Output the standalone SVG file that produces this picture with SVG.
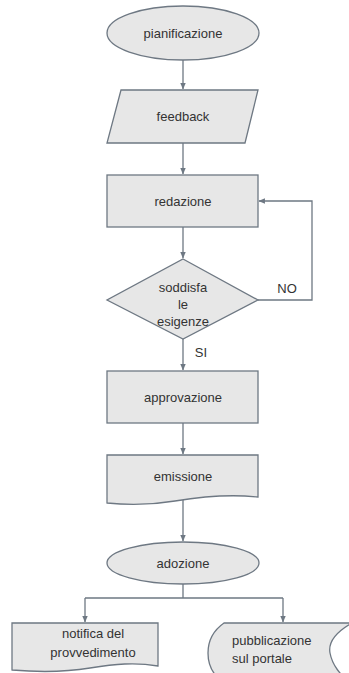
<svg xmlns="http://www.w3.org/2000/svg" width="349" height="673" viewBox="0 0 349 673">
<defs>
<style>
.s{fill:#e7e7e7;stroke:#6e7883;stroke-width:1.3}
.t{font-family:"Liberation Sans",Arial,sans-serif;font-size:13px;fill:#333;text-anchor:middle}
.c{fill:none;stroke:#6e7883;stroke-width:1.3}
</style>
<marker id="a" viewBox="0 0 6 6" refX="5.5" refY="3" markerWidth="5" markerHeight="5" orient="auto">
<path d="M0,0.5 L6,3 L0,5.5 z" fill="#6e7883"/>
</marker>
</defs>
<rect width="349" height="673" fill="#fff"/>
<g id="connectors">
<path class="c" d="M183,59 V89" marker-end="url(#a)"/>
<path class="c" d="M183,143 V174" marker-end="url(#a)"/>
<path class="c" d="M183,227 V258" marker-end="url(#a)"/>
<path class="c" d="M258,300 H312 V201 H259" marker-end="url(#a)"/>
<path class="c" d="M183,339 V370" marker-end="url(#a)"/>
<path class="c" d="M183,423 V454" marker-end="url(#a)"/>
<path class="c" d="M183,500 V541" marker-end="url(#a)"/>
<path class="c" d="M183,583 V598 M85,598 H283"/>
<path class="c" d="M85,598 V622" marker-end="url(#a)"/>
<path class="c" d="M283,598 V622" marker-end="url(#a)"/>
<text class="t" x="287" y="293">NO</text>
<text class="t" x="201" y="357">SI</text>
</g>
<g id="pianificazione">
<ellipse class="s" cx="183" cy="33" rx="76" ry="27"/>
<text class="t" x="183" y="38">pianificazione</text>
</g>
<g id="feedback">
<path class="s" d="M121,90 H258 L245,143 H107 Z"/>
<text class="t" x="183" y="121">feedback</text>
</g>
<g id="redazione">
<rect class="s" x="107" y="175" width="151" height="52"/>
<text class="t" x="183" y="206">redazione</text>
</g>
<g id="soddisfa">
<path class="s" d="M183,259 L258,300 L183,339 L107,300 Z"/>
<text class="t" x="183" y="292">soddisfa</text>
<text class="t" x="183" y="309">le</text>
<text class="t" x="183" y="326">esigenze</text>
</g>
<g id="approvazione">
<rect class="s" x="107" y="371" width="151" height="52"/>
<text class="t" x="183" y="402">approvazione</text>
</g>
<g id="emissione">
<path class="s" d="M107,455 H258 V497 C230,494 205,496 175,501 C145,506 125,505 107,503 Z"/>
<text class="t" x="183" y="481">emissione</text>
</g>
<g id="adozione">
<ellipse class="s" cx="183" cy="563" rx="76" ry="21"/>
<text class="t" x="183" y="568">adozione</text>
</g>
<g id="notifica">
<path class="s" d="M12,623 H158 V666 C135,662 115,664 90,668 C60,673 35,672 12,670 Z"/>
<text class="t" x="93" y="638">notifica del</text>
<text class="t" x="93" y="657">provvedimento</text>
</g>
<g id="pubblicazione">
<path class="s" d="M224,623 H352 C336,632 328,642 330,653 C332,664 340,676 352,683 H224 C214,676 208,665 208,653 C208,641 214,630 224,623 Z"/>
<text class="t" x="232" y="645" style="text-anchor:start">pubblicazione</text>
<text class="t" x="232" y="663" style="text-anchor:start">sul portale</text>
</g>
</svg>
